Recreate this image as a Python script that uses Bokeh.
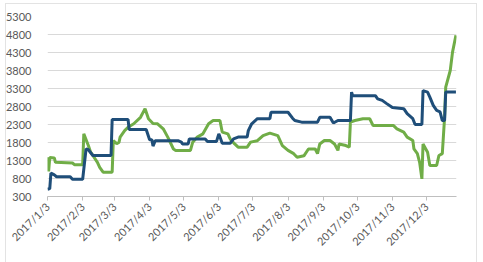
import math
from datetime import datetime
from bokeh.plotting import figure
from bokeh.models import FixedTicker, DatetimeTickFormatter, Range1d
from bokeh.embed import file_html
from bokeh.resources import INLINE

# ---- data ----
blue_dates = ["2017-01-03","2017-01-05","2017-01-06","2017-01-09","2017-01-11","2017-01-23","2017-01-25",
              "2017-02-03","2017-02-06","2017-02-08","2017-02-12","2017-02-28","2017-03-01","2017-03-15",
              "2017-03-16","2017-03-31","2017-04-03","2017-04-05","2017-04-06","2017-04-08","2017-04-28",
              "2017-05-01","2017-05-02","2017-05-07","2017-05-08","2017-05-22","2017-05-24","2017-06-01",
              "2017-06-03","2017-06-06","2017-06-13","2017-06-16","2017-06-20","2017-06-28","2017-06-29",
              "2017-07-02","2017-07-07","2017-07-18","2017-07-19","2017-08-03","2017-08-07","2017-08-09",
              "2017-08-15","2017-08-29","2017-08-31","2017-09-09","2017-09-12","2017-09-16","2017-09-27",
              "2017-09-28","2017-09-29","2017-10-19","2017-10-21","2017-10-25","2017-10-29","2017-11-03",
              "2017-11-13","2017-11-16","2017-11-21","2017-11-23","2017-11-29","2017-11-30","2017-12-04",
              "2017-12-06","2017-12-09","2017-12-12","2017-12-15","2017-12-17","2017-12-19","2017-12-20",
              "2017-12-29"]
blue_values = [500,520,950,900,850,850,780,780,1625,1600,1440,1440,2440,2440,2160,2160,1875,1875,1700,1850,
               1850,1810,1760,1760,1900,1900,1830,1830,2040,1780,1780,1900,1950,1950,2130,2320,2460,2460,2640,
               2640,2475,2410,2365,2365,2500,2500,2340,2410,2410,3200,3100,3100,3010,2970,2880,2770,2740,2600,
               2460,2300,2300,3240,3200,3060,2830,2690,2650,2410,2410,3200,3200]

green_dates = ["2017-01-03","2017-01-04","2017-01-05","2017-01-09","2017-01-10","2017-01-25","2017-01-27",
               "2017-02-03","2017-02-04","2017-02-08","2017-02-10","2017-02-12","2017-02-16","2017-02-18",
               "2017-02-21","2017-03-01","2017-03-02","2017-03-05","2017-03-07","2017-03-08","2017-03-12",
               "2017-03-15","2017-03-20","2017-03-26","2017-03-30","2017-04-02","2017-04-06","2017-04-10",
               "2017-04-15","2017-04-19","2017-04-24","2017-04-26","2017-05-09","2017-05-11","2017-05-15",
               "2017-05-20","2017-05-25","2017-05-29","2017-06-04","2017-06-06","2017-06-11","2017-06-13",
               "2017-06-17","2017-06-20","2017-06-28","2017-07-01","2017-07-07","2017-07-12","2017-07-18",
               "2017-07-25","2017-07-29","2017-08-03","2017-08-08","2017-08-11","2017-08-17","2017-08-21",
               "2017-08-27","2017-08-29","2017-08-31","2017-09-04","2017-09-09","2017-09-13","2017-09-16",
               "2017-09-17","2017-09-23","2017-09-26","2017-09-27","2017-10-01","2017-10-08","2017-10-14",
               "2017-10-17","2017-11-04","2017-11-07","2017-11-13","2017-11-16","2017-11-21","2017-11-22",
               "2017-11-25","2017-11-27","2017-11-29","2017-11-30","2017-12-04","2017-12-06","2017-12-12",
               "2017-12-14","2017-12-17","2017-12-19","2017-12-20","2017-12-24","2017-12-26","2017-12-29"]
green_values = [1390,1000,1380,1370,1250,1230,1180,1180,2040,1715,1530,1440,1250,1110,975,975,1855,1770,1800,
                1950,2130,2225,2320,2500,2740,2460,2330,2320,2180,1950,1620,1580,1580,1810,1950,2040,2320,2410,
                2410,2090,2040,1900,1760,1670,1670,1810,1850,1990,2060,1990,1715,1580,1490,1390,1430,1620,1620,
                1490,1760,1855,1855,1760,1580,1760,1715,1670,2370,2410,2460,2460,2270,2270,2180,2090,1950,1855,
                1620,1490,1250,790,1760,1530,1160,1160,1440,1490,2500,3340,3800,4310,4780]

tick_dates = ["2017-01-03","2017-02-03","2017-03-03","2017-04-03","2017-05-03","2017-06-03",
              "2017-07-03","2017-08-03","2017-09-03","2017-10-03","2017-11-03","2017-12-03"]
y_ticks = [300, 800, 1300, 1800, 2300, 2800, 3300, 3800, 4300, 4800, 5300]

def to_dt(s):
    return datetime.strptime(s, "%Y-%m-%d")

def to_ms(s):
    return (to_dt(s) - datetime(1970, 1, 1)).total_seconds() * 1000.0

bx = [to_dt(d) for d in blue_dates]
gx = [to_dt(d) for d in green_dates]

x_start = to_ms("2017-01-03")
x_end = to_ms("2017-12-29") + 12 * 3600 * 1000

p = figure(width=483, height=262, x_axis_type="datetime", output_backend="svg",
           toolbar_location=None, x_range=Range1d(x_start, x_end), y_range=Range1d(300, 5300),
           min_border_left=47, min_border_right=27, min_border_top=16, min_border_bottom=66)
p.outline_line_color = None
p.background_fill_color = "white"
p.border_fill_color = "white"

p.line(gx, green_values, line_color="#70AD47", line_width=3)
p.line(bx, blue_values, line_color="#1F4E79", line_width=3)

# axes
p.xaxis.ticker = FixedTicker(ticks=[to_ms(d) for d in tick_dates])
p.xaxis.formatter = DatetimeTickFormatter(days="%Y/%-m/%-d", months="%Y/%-m/%-d", years="%Y/%-m/%-d")
p.xaxis.major_label_orientation = math.pi / 4
p.xaxis.axis_line_color = "#BFBFBF"
p.xaxis.major_tick_line_color = "#BFBFBF"
p.xaxis.major_tick_out = 4
p.xaxis.major_tick_in = 0
p.xaxis.minor_tick_line_color = None
p.xaxis.major_label_text_font = "Lato"
p.xaxis.major_label_text_font_size = "11px"
p.xaxis.major_label_text_color = "#595959"
p.xaxis.major_label_standoff = 4

p.yaxis.ticker = FixedTicker(ticks=y_ticks)
p.yaxis.axis_line_color = None
p.yaxis.major_tick_line_color = None
p.yaxis.minor_tick_line_color = None
p.yaxis.major_label_text_font = "Lato"
p.yaxis.major_label_text_font_size = "11px"
p.yaxis.major_label_text_color = "#595959"
p.yaxis.major_label_standoff = 10

p.xgrid.grid_line_color = None
p.ygrid.ticker = FixedTicker(ticks=y_ticks)
p.ygrid.grid_line_color = "#D9D9D9"
p.ygrid.grid_line_width = 1

# faint outer chart border (cut off at the bottom, as in the source image)
p.stylesheets = [":host::after { content: ''; position: absolute; left: 5px; top: 3px; "
                 "width: 472px; height: 275px; border: 1px solid #E3E3E3; pointer-events: none; "
                 "box-sizing: border-box; }"]

open("out.html", "w").write(file_html(p, INLINE))
